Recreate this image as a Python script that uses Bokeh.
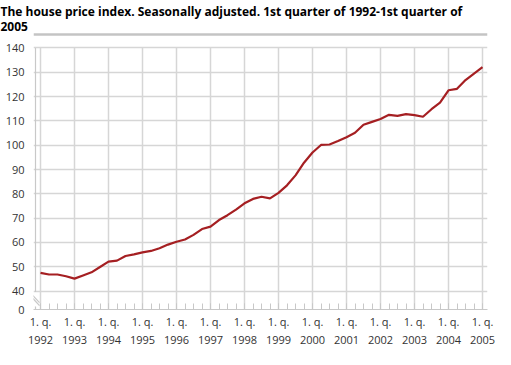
from bokeh.plotting import figure
from bokeh.models import FixedTicker, Range1d, ColumnDataSource, Title
from bokeh.embed import file_html
from bokeh.resources import INLINE

# ---- data ----
title_lines = [
    "The house price index. Seasonally adjusted. 1st quarter of 1992-1st quarter of",
    "2005",
]
start_year = 1992
index_values = [
    47.5, 46.8, 46.8, 46.1,      # 1992
    45.1, 46.4, 47.7, 49.9,      # 1993
    52.1, 52.5, 54.4, 55.1,      # 1994
    55.9, 56.5, 57.6, 59.1,      # 1995
    60.3, 61.2, 63.1, 65.5,      # 1996
    66.5, 69.2, 71.2, 73.5,      # 1997
    76.1, 77.9, 78.8, 78.1,      # 1998
    80.4, 83.5, 87.6, 92.8,      # 1999
    97.0, 100.1, 100.3, 101.7,   # 2000
    103.3, 105.1, 108.4, 109.6,  # 2001
    110.8, 112.5, 112.1, 112.8,  # 2002
    112.4, 111.7, 114.8, 117.5,  # 2003
    122.6, 123.2, 126.8, 129.5,  # 2004
    132.1,                       # 2005
]
year_ticks = list(range(1992, 2006))
x_tick_labels = {y: f"1. q.\n{y}" for y in year_ticks}
y_ticks = [40, 50, 60, 70, 80, 90, 100, 110, 120, 130, 140]
y_zero_label = "0"
broken_floor = 32.4   # position on the broken axis where "0" is drawn
y_grid_top = 140
y_top = 147.2         # frame extends above the grid to hold the title rule
rule_y = 145.6

W, H = 495, 349
PX_YEAR = 34.0        # horizontal scale (px per year)
LEFT = 33

p = figure(width=W, height=H, output_backend="svg", toolbar_location=None,
           x_range=Range1d(1992 - 7 / PX_YEAR, 1992 + 447 / PX_YEAR),
           y_range=Range1d(broken_floor, y_top))
p.title.visible = False
p.min_border = 0
p.min_border_left = LEFT
p.min_border_right = 8
p.min_border_top = 0
p.min_border_bottom = 33
p.outline_line_color = None

for t in reversed(title_lines):
    p.add_layout(Title(text=t, align="left", offset=-LEFT, standoff=0,
                       text_font="Open Sans", text_font_style="bold",
                       text_font_size="12px", text_color="#000000"), "above")

xs = [start_year + i / 4 for i in range(len(index_values))]
src = ColumnDataSource(dict(x=xs, y=index_values))

grid_color = "#d6d6d6"
p.xgrid.visible = False
p.ygrid.ticker = FixedTicker(ticks=y_ticks)
p.ygrid.grid_line_color = grid_color
p.ygrid.grid_line_width = 1.5
p.segment(x0=year_ticks, y0=[broken_floor] * len(year_ticks),
          x1=year_ticks, y1=[y_grid_top] * len(year_ticks),
          line_color=grid_color, line_width=1.5)

p.line("x", "y", source=src, line_color="#a51f22", line_width=2.2)

# rule under the title, across the frame
rx = [p.x_range.start, p.x_range.end]
p.line(x=rx, y=[rule_y, rule_y], line_color="#c4c4c4", line_width=2.5)

xa = p.xaxis[0]
xa.ticker = FixedTicker(ticks=year_ticks, minor_ticks=xs)
xa.major_label_overrides = x_tick_labels
xa.axis_line_color = "#c8c8c8"
xa.major_tick_line_color = "#c8c8c8"
xa.minor_tick_line_color = "#c8c8c8"
xa.major_tick_in = 6
xa.major_tick_out = 0
xa.minor_tick_in = 6
xa.minor_tick_out = 0
xa.major_label_standoff = 4
xa.major_label_text_font = "Open Sans"
xa.major_label_text_font_size = "11px"
xa.major_label_text_color = "#333333"
xa.major_label_text_line_height = 1.2

ya = p.yaxis[0]
ya.ticker = FixedTicker(ticks=[broken_floor] + y_ticks)
ya.major_label_overrides = {broken_floor: y_zero_label}
ya.axis_line_color = None
ya.major_tick_line_color = None
ya.minor_tick_line_color = None
ya.major_label_standoff = 3
ya.major_label_text_font = "Open Sans"
ya.major_label_text_font_size = "11px"
ya.major_label_text_color = "#333333"

# hand-drawn axis line with break marks
ax_x = 1992 - 5 / PX_YEAR
p.segment(x0=[ax_x, ax_x], y0=[y_grid_top, 33.6], x1=[ax_x, ax_x], y1=[39.6, broken_floor],
          line_color="#c8c8c8", line_width=1.2)
p.segment(x0=[1992 - 9 / PX_YEAR] * 2, y0=[38.8, 37.6],
          x1=[1992 - 1 / PX_YEAR] * 2, y1=[35.2, 34.0],
          line_color="#c8c8c8", line_width=1.2)

open("out.html", "w").write(file_html(p, INLINE))
